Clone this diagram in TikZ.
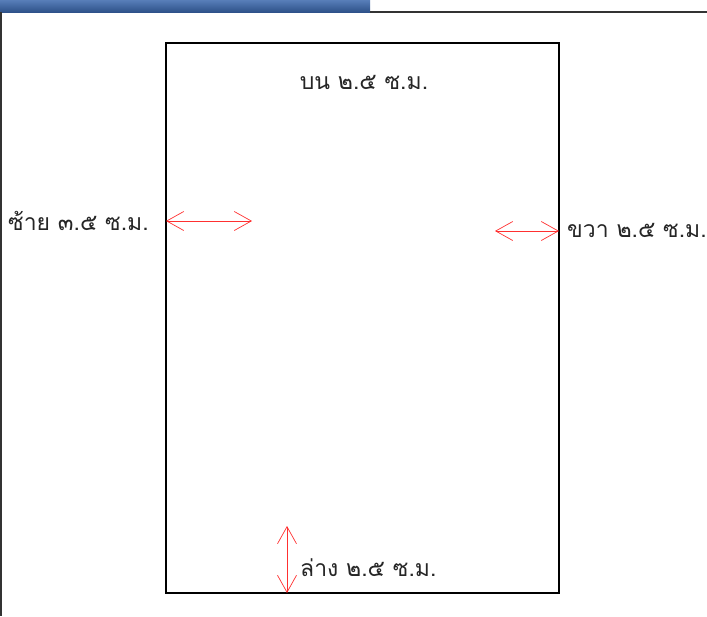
\documentclass[tikz,border=0pt]{standalone}
\usepackage{fontspec}
\newfontfamily\thaifont[Script=Thai]{Loma}
\usetikzlibrary{arrows.meta}
\definecolor{barblue}{HTML}{3A67AC}
\definecolor{arrowred}{HTML}{FF3030}
\begin{document}
\begin{tikzpicture}[x=1pt,y=-1pt,
  lbl/.style={font=\thaifont\fontsize{23}{26}\selectfont, inner sep=0pt, text=black!85},
  marg/.style={draw=arrowred, line width=0.7pt, {Straight Barb[length=17pt,width=19pt]}-{Straight Barb[length=17pt,width=19pt]}},
  page/.style={draw=black, line width=1.6pt}]
\useasboundingbox (0,0) rectangle (707,616);
\fill[white] (0,0) rectangle (707,616);
\fill[top color=barblue!85!white, bottom color=barblue!80!black] (0,0) rectangle (370,12);
\draw[black!80, line width=1.2pt] (370,12) -- (707,12);
\draw[black!80, line width=1.2pt] (1,12) -- (1,616);
\draw[page] (166,43) rectangle (559,593);
\coordinate (L1) at (166,221); \coordinate (L2) at (252,221);
\coordinate (R1) at (495,231); \coordinate (R2) at (559,231);
\coordinate (B1) at (287,526); \coordinate (B2) at (287,593);
\draw[marg] (L1) -- (L2);
\draw[marg] (R1) -- (R2);
\draw[marg] (B1) -- (B2);
\node[lbl] (top) at (364,82) {บน ๒.๕ ซ.ม.};
\node[lbl, anchor=west] (left) at (8,221) {ซ้าย ๓.๕ ซ.ม.};
\node[lbl, anchor=west] (right) at (567,230) {ขวา ๒.๕ ซ.ม.};
\node[lbl, anchor=west] (bottom) at (300,568) {ล่าง ๒.๕ ซ.ม.};
\end{tikzpicture}
\end{document}
